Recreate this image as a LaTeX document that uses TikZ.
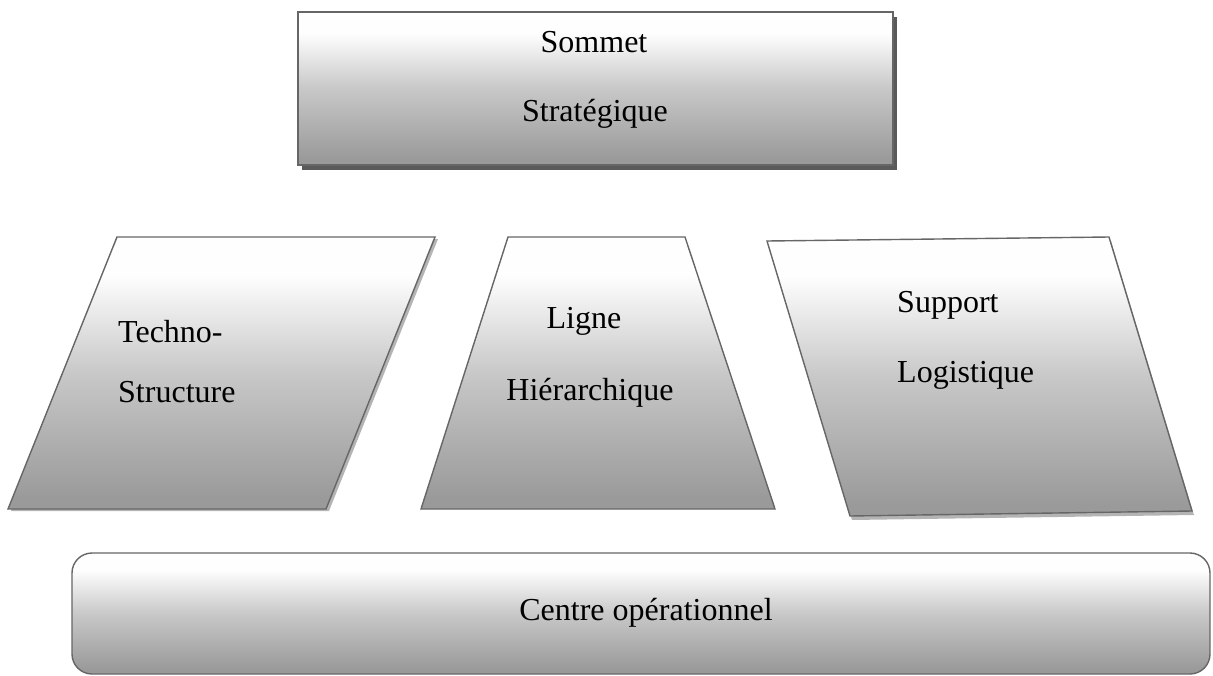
\documentclass[tikz,border=0pt]{standalone}
\usepackage{fontspec}
\setmainfont{Liberation Serif}
\definecolor{gTop}{HTML}{FEFEFE}
\definecolor{gMid}{HTML}{C8C8C8}
\definecolor{gBot}{HTML}{9A9A9A}
\definecolor{edge}{HTML}{666666}
\definecolor{shadowDark}{HTML}{5A5A5A}
\definecolor{shadowLight}{HTML}{B4B4B4}
% light at the top, grey at the bottom
\pgfdeclareverticalshading{boxgrad}{100bp}{color(0bp)=(gBot); color(27bp)=(gBot); color(50bp)=(gMid); color(68bp)=(gTop); color(100bp)=(gTop)}
\tikzset{
  blockshape/.style={draw=edge, line width=1.4pt, shading=boxgrad},
  label/.style={inner sep=0pt, font=\fontsize{32}{38}\selectfont},
}
\begin{document}
\begin{tikzpicture}[x=1pt, y=-1pt]
\useasboundingbox (0,0) rectangle (1213,675);

% corner points of the blocks
\coordinate (s1) at (298,12);   \coordinate (s2) at (893,165);
\coordinate (t1) at (117,237);  \coordinate (t2) at (435,237);
\coordinate (t3) at (326,509);  \coordinate (t4) at (8,509);
\coordinate (l1) at (508,237);  \coordinate (l2) at (685,237);
\coordinate (l3) at (775,509);  \coordinate (l4) at (421,509);
\coordinate (p1) at (767,241);  \coordinate (p2) at (1109,237);
\coordinate (p3) at (1192,511); \coordinate (p4) at (850,516);
\coordinate (c1) at (72,553);   \coordinate (c2) at (1210,674);

% shadows
\fill[shadowDark] ([shift={(4,5)}]s1) rectangle ([shift={(4,5)}]s2);
\fill[shadowLight] ([shift={(3,2)}]t1) -- ([shift={(3,2)}]t2) -- ([shift={(3,2)}]t3) -- ([shift={(3,2)}]t4) -- cycle;
\fill[shadowLight] ([shift={(2,4)}]p1) -- ([shift={(2,4)}]p2) -- ([shift={(2,4)}]p3) -- ([shift={(2,4)}]p4) -- cycle;

% blocks
\path[blockshape] (s1) rectangle (s2);
\path[blockshape] (t1) -- (t2) -- (t3) -- (t4) -- cycle;
\path[blockshape] (l1) -- (l2) -- (l3) -- (l4) -- cycle;
\path[blockshape] (p1) -- (p2) -- (p3) -- (p4) -- cycle;
\path[blockshape, rounded corners=20pt] (c1) rectangle (c2);

% labels
\node[label, anchor=base] (sommet) at (594,52) {Sommet};
\node[label, anchor=base] (strat) at (595,121) {Stratégique};
\node[label, anchor=base west] (techno) at (118,342) {Techno-};
\node[label, anchor=base west] (structure) at (118,402) {Structure};
\node[label, anchor=base] (ligne) at (584,328) {Ligne};
\node[label, anchor=base] (hier) at (590,400) {Hiérarchique};
\node[label, anchor=base west] (support) at (897,312) {Support};
\node[label, anchor=base west] (logist) at (897,382) {Logistique};
\node[label, anchor=base] (centre) at (646,620) {Centre opérationnel};
\end{tikzpicture}
\end{document}
